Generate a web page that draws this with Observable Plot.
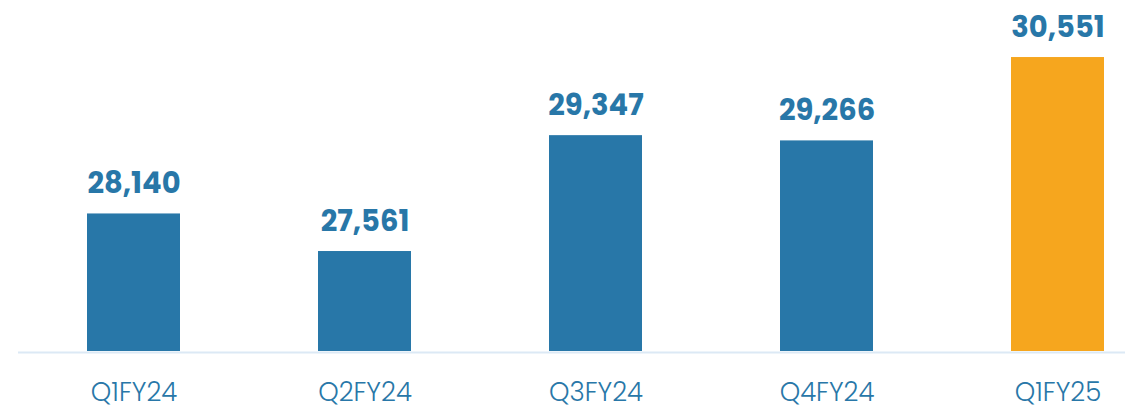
<!DOCTYPE html>
<html>
<head>
<meta charset="utf-8">
<script src="https://cdn.jsdelivr.net/npm/d3@7"></script>
<script src="https://cdn.jsdelivr.net/npm/@observablehq/plot@0.6"></script>
<style>
  html, body { margin: 0; padding: 0; background: #ffffff; }
  #chart svg { display: block; }
</style>
</head>
<body>
<div id="chart"></div>
<script>
const quarters = ["Q1FY24", "Q2FY24", "Q3FY24", "Q4FY24", "Q1FY25"];
const values = [28140, 27561, 29347, 29266, 30551];
const highlight = ["no", "no", "no", "no", "yes"];

const data = quarters.map((q, i) => ({quarter: q, value: values[i], hl: highlight[i]}));
const base = 26020;
const fmt = d3.format(",");

const chart = Plot.plot({
  width: 1125,
  height: 406,
  marginLeft: 18,
  marginRight: 0,
  marginTop: 0,
  marginBottom: 55,
  style: {fontFamily: "Poppins, Inter, 'Open Sans', sans-serif", background: "#ffffff"},
  x: {domain: quarters, range: [18, 1173], paddingInner: 0.5974, paddingOuter: 0.2987, label: null},
  y: {domain: [base, 31430], axis: null},
  color: {domain: ["no", "yes"], range: ["#2877a8", "#f6a61e"]},
  marks: [
    Plot.barY(data, {x: "quarter", y1: base, y2: "value", fill: "hl"}),
    Plot.ruleY([base], {stroke: "#dce9f5", strokeWidth: 2, dy: 1}),
    Plot.text(data, {
      x: "quarter", y: "value", text: d => fmt(d.value),
      lineAnchor: "bottom", dy: -21, fill: "#2877a8",
      fontSize: 29, fontWeight: 700
    }),
    Plot.axisX({
      tickSize: 0, tickPadding: 31, fontSize: 26, fontWeight: 300,
      color: "#2877a8", label: null
    })
  ]
});
document.getElementById("chart").append(chart);
</script>
</body>
</html>
